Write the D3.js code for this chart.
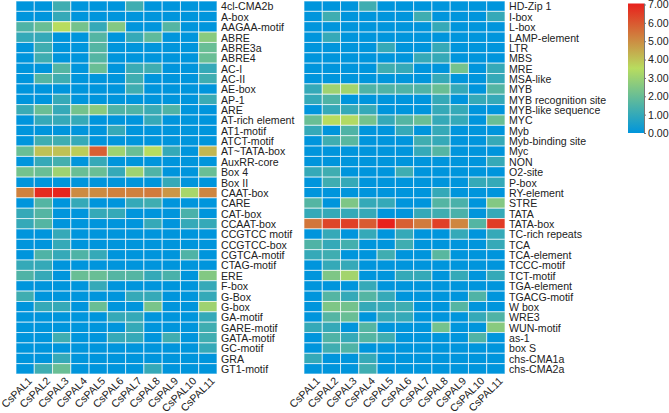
<!DOCTYPE html>
<html><head><meta charset="utf-8">
<script src="https://cdn.jsdelivr.net/npm/d3@7/dist/d3.min.js"></script>
<style>html,body{margin:0;padding:0;background:#fff}svg{display:block}text{font-family:"Liberation Sans",Arial,sans-serif}</style>
</head><body><svg id="c" width="669" height="413"></svg>
<script>
const genes = ["CsPAL1","CsPAL2","CsPAL3","CsPAL4","CsPAL5","CsPAL6","CsPAL7","CsPAL8","CsPAL9","CsPAL10","CsPAL11"];
const elementsLeft = ["4cl-CMA2b","A-box","AAGAA-motif","ABRE","ABRE3a","ABRE4","AC-I","AC-II","AE-box","AP-1","ARE","AT-rich element","AT1-motif","ATCT-motif","AT~TATA-box","AuxRR-core","Box 4","Box II","CAAT-box","CARE","CAT-box","CCAAT-box","CCGTCC motif","CCGTCC-box","CGTCA-motif","CTAG-motif","ERE","F-box","G-Box","G-box","GA-motif","GARE-motif","GATA-motif","GC-motif","GRA","GT1-motif"];
const elementsRight = ["HD-Zip 1","I-box","L-box","LAMP-element","LTR","MBS","MRE","MSA-like","MYB","MYB recognition site","MYB-like sequence","MYC","Myb","Myb-binding site","Myc","NON","O2-site","P-box","RY-element","STRE","TATA","TATA-box","TC-rich repeats","TCA","TCA-element","TCCC-motif","TCT-motif","TGA-element","TGACG-motif","W box","WRE3","WUN-motif","as-1","box S","chs-CMA1a","chs-CMA2a"];
const valuesLeft = [
[0,0,1.2,0,0,0,1.2,0,0,0,0],
[0,0,1,0,0,0,0,0,0,0,0],
[1.5,2,3.5,2.2,1,2.5,0,0,1.6,0,0],
[1,1,0,0,1.6,0,1,1.8,0,0,2.6],
[0,1.2,0,0,1.6,0,0,0,0,0,2],
[0,1.2,0,0,1.6,0,0,0,0,0,2],
[0,0,1.6,0,2,0,1.1,1.2,0,0,1],
[0,1.6,1.2,0,0,0,1.2,0,0,0,1.2],
[0,0,0,0,0,0,1.2,0,0,0,0],
[0,0,1,0,0,0,0,0,0,0,1.1],
[1.1,2,1,2.2,2.6,1.5,1.5,1.1,1.5,0,0],
[0,1,1,1,0,0,0,1,0,0,0],
[0,0,0,0,0,1,0,0,0,0,0],
[0,1.2,1.2,1,0,0,0,0,0,0,0],
[2,4,4,3.8,5.8,3,2,3.5,1,0,4.2],
[0,1,1.3,0,1,0,0,0,0,0,0],
[2.2,2,3,2,2,1,3,1.5,0,0,2],
[0,0,0,0,0,0,0,0,1,0,0],
[5.2,6.8,6.9,5,5,5.2,5.2,5.3,4.8,3.2,5.1],
[0,1.6,0,1,0,0,1,1.2,0,0,0],
[1,1.6,0,0,1,1,0,0,0,1.4,0],
[1,1.6,0,0,0,0,0,1,0,1,1],
[0,0,1,0,0,0,0,0,0,0,0],
[0,0,1,0,0,0,0,0,0,0,0],
[0,1.5,1,1.5,1,0,0,0,0,1.5,0],
[1,1,0,0,0,0,0,0,0,0,0],
[1.5,1,0,2,2,1.6,1.6,1,1.4,0,2.5],
[0,0,0,0,1,0,0,0,0,0,1],
[1.2,0,0,0,0,0,1,1,0,0,1],
[0,1,1,0,2,0,0,2.3,0,0,3],
[0,0,0,0,0,1,1,0,0,0,1],
[0,0,0,0,0,0,1,0,0,0,1.2],
[0,0,1.2,0,0,1,1,0,1.2,0,1.2],
[0,0,0,0,0,0,0,0,0,0,1],
[0,0,1,0,0,0,0,0,0,0,0],
[0,1.2,2,0,0,0,0,1,0,0,0]];
const valuesRight = [
[0,0,0,1.2,0,0,0,0,0,0,0],
[0,1.2,0,0,0,0,1.2,0,0,0,1],
[0,0,0,0,0,0,0,1,0,0,0],
[0,1,0,0,0,0,0,0,0,0,0],
[0,0,0,0,1,0,0,1,0,0,0],
[0,0,0,0,0,0,1,1,0,0,0],
[0,0,0,0,1.2,1,0,0,2.2,0,1],
[0,0,0,0,0,0,0,1,0,0,1],
[1,3,3.1,1.5,1.5,1.5,1.5,2,1,0,1.6],
[1,1.5,0,0,0,0,0,1,0,1,1],
[0,1,1,1,0,0,0,1,1,0,0],
[2,3.5,3.4,2.2,1,1.6,2,1,1,0,2],
[1,0,1.5,0,0,1,0,1,0,0,0],
[0,1.2,1.7,0,0,0,1.2,1,0,0,1],
[0,0,0,0,0,0,1,1.6,0,0,0],
[0,0,0,0,0,0,0,0,0,0,1],
[1,1.2,0,0,0,1.2,0,0,0,0,0],
[0,1.2,1,0,0,0,0,0,0,1,1],
[0,0,0,0,0,0,0,1,0,0,0],
[1.6,0,2.4,1,1,0,0,1.6,1.4,0,2.5],
[1,1,1,1,0,0,1,1.2,1.4,0,1],
[5.4,6.3,6.4,5.9,7,5.8,5.3,6.4,5.1,1.6,6.5],
[0,1,0,1,0,1,0,0,1,0,1],
[1.5,1,1.3,0,0,1.2,0,0,0,0,1],
[1,1.2,0,0,1.2,0,0,1.7,0,0,0],
[0,1,1,0,0,0,0,0,0,0,0],
[0,2.4,3.1,0,0,1,1,0,1,0,1],
[0,0,0,1,0,0,0,0,0,0,0],
[0,1.6,1,1.6,1,0,0,0,0,1.5,0],
[0,2.4,2.2,1,1,1.2,0,0,1.6,0,0],
[0,1.6,2,0,1,1,0,0,0,1,1.5],
[1,1,0,1.6,0,0,0,2.2,0,0,2.6],
[0,1.5,1,1.6,1.2,0,0,0,0,1.5,0],
[0,1.2,1.5,0,0,0,0,0,0,0,0],
[1,0,0,1,0,0,0,0,0,0,0],
[0,0,0,1.2,0,0,0,0,0,0,0]];
const legendTicks = [0,1,2,3,4,5,6,7];
const colorStops = [0,3.5,7];
const colorRange = ["#0095dc","#b8dc5f","#e8201c"];

const svg = d3.select("#c");
const color = d3.scaleLinear().domain(colorStops).range(colorRange);
const gridTop = 1, gridBottom = 374;

function heatmap(x0, x1, labels, values){
  const x = d3.scaleBand().domain(genes).range([x0,x1]);
  const y = d3.scaleBand().domain(labels).range([gridTop,gridBottom]);
  const g = svg.append("g");
  labels.forEach((lab,r)=>{
    g.selectAll(null).data(values[r]).join("rect")
     .attr("x",(d,i)=>x(genes[i])).attr("y",y(lab))
     .attr("width",x.bandwidth()).attr("height",y.bandwidth())
     .attr("fill",d=>color(d))
     .attr("stroke","#ffffff").attr("stroke-opacity",0.65).attr("stroke-width",1);
  });
  const ay = svg.append("g").attr("transform",`translate(${x1},0)`)
    .call(d3.axisRight(y).tickSize(0).tickPadding(4));
  ay.select(".domain").remove();
  ay.selectAll("text").attr("font-size",10.6).attr("fill","#222").attr("dy","0.4em");
  const ax = svg.append("g").attr("transform",`translate(0,${gridBottom})`)
    .call(d3.axisBottom(x).tickSize(0));
  ax.select(".domain").remove();
  ax.selectAll("text").attr("font-size",10.6).attr("fill","#222")
    .attr("text-anchor","end").attr("x",0).attr("y",0).attr("dy","0.35em")
    .attr("transform","translate(5,5) rotate(-45)");
}
heatmap(16,217,elementsLeft,valuesLeft);
heatmap(304,505,elementsRight,valuesRight);

const ly = d3.scaleLinear().domain([0,7]).range([133,4.5]);
const grad = svg.append("defs").append("linearGradient").attr("id","lg")
  .attr("x1",0).attr("y1",1).attr("x2",0).attr("y2",0);
grad.selectAll("stop").data(colorStops).join("stop")
  .attr("offset",d=>d/7).attr("stop-color",d=>color(d));
svg.append("rect").attr("x",628).attr("y",ly(7)-1).attr("width",16).attr("height",ly(0)-ly(7)+1).attr("fill","url(#lg)");
const al = svg.append("g").attr("transform","translate(644,0)")
  .call(d3.axisRight(ly).tickValues(legendTicks).tickFormat(d3.format(".2f")).tickSize(2).tickPadding(2));
al.select(".domain").attr("stroke","#777").attr("d",`M0.5,${ly(7)-1}V${ly(0)}`);
al.selectAll("line").attr("stroke","#777");
al.selectAll("text").attr("font-size",10.6).attr("fill","#222");
</script></body></html>
